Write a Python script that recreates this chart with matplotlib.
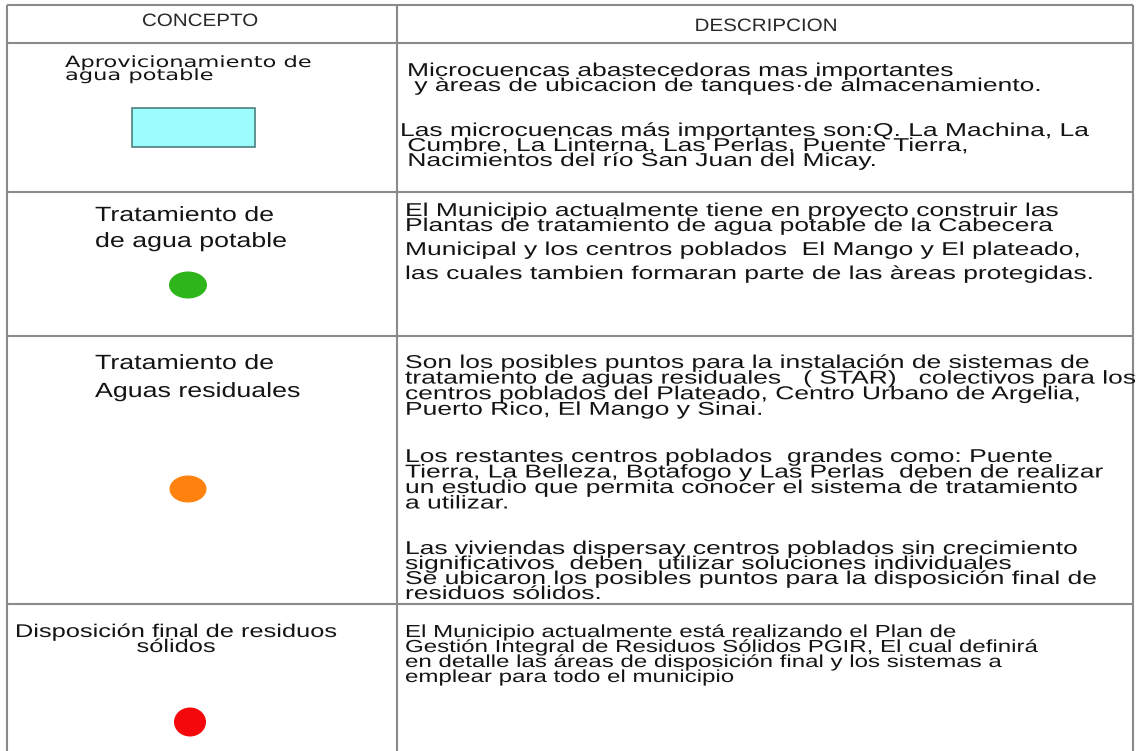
import matplotlib
matplotlib.use("Agg")
import matplotlib.pyplot as plt
from matplotlib.patches import Rectangle, Ellipse
from matplotlib.patheffects import AbstractPathEffect
from matplotlib.transforms import Affine2D
from matplotlib.font_manager import FontProperties

# table content
headers = ["CONCEPTO", "DESCRIPCION"]
concepts = [
    ["Aprovicionamiento de", "agua potable"],
    ["Tratamiento de", "de agua potable"],
    ["Tratamiento de", "Aguas residuales"],
    ["Disposición final de residuos", "sólidos"],
]
symbol_colors = ["#9dfcfc", "#2eb51c", "#ff820e", "#f5080b"]
descriptions = [
    [["Microcuencas abastecedoras mas importantes",
      " y àreas de ubicacion de tanques·de almacenamiento."],
     ["Las microcuencas más importantes son:Q. La Machina, La",
      " Cumbre, La Linterna, Las Perlas, Puente Tierra,",
      " Nacimientos del río San Juan del Micay."]],
    [["El Municipio actualmente tiene en proyecto construir las",
      "Plantas de tratamiento de agua potable de la Cabecera"],
     ["Municipal y los centros poblados  El Mango y El plateado,",
      "las cuales tambien formaran parte de las àreas protegidas."]],
    [["Son los posibles puntos para la instalación de sistemas de",
      "tratamiento de aguas residuales   ( STAR)   colectivos para los",
      "centros poblados del Plateado, Centro Urbano de Argelia,",
      "Puerto Rico, El Mango y Sinai."],
     ["Los restantes centros poblados  grandes como: Puente",
      "Tierra, La Belleza, Botafogo y Las Perlas  deben de realizar",
      "un estudio que permita conocer el sistema de tratamiento",
      "a utilizar."],
     ["Las viviendas dispersay centros poblados sin crecimiento",
      "significativos  deben  utilizar soluciones individuales",
      "Se ubicaron los posibles puntos para la disposición final de",
      "residuos sólidos."]],
    [["El Municipio actualmente está realizando el Plan de",
      "Gestión Integral de Residuos Sólidos PGIR, El cual definirá",
      "en detalle las áreas de disposición final y los sistemas a",
      "emplear para todo el municipio"]],
]

# layout (pixel space of the 1138x751 picture)
W, H = 1138, 751
SX_R = 1.42   # the source picture is stretched horizontally
SX_N = 1.15
ARIAL = ["Liberation Sans", "DejaVu Sans"]
NARROW = ["Liberation Sans Narrow", "DejaVu Sans Condensed", "Liberation Sans"]
VERDANA = ["DejaVu Sans"]

col_x = [7, 397, 1133]
row_y = [5, 43, 192, 336, 604, H]

# (family, stretch, x, first baseline, line pitch, width of first line)
concept_pos = [
    (VERDANA, 1.45, 65, 67, 13, 247),
    (ARIAL, 1.3, 95, 221, 26, 180),
    (ARIAL, 1.3, 95, 369, 28, 180),
    (NARROW, 1.38, "c176", 637, 15, 323),
]
# (x, first baseline, pitch)
desc_pos = [
    [(407, 76, 15), (400, 136, 15)],
    [(405, 216, 15), (405, 255, 24)],
    [(405, 368, 15.6), (405, 462, 15.5), (405, 554, 15)],
    [(405, 637, 15)],
]


class StretchX(AbstractPathEffect):
    def __init__(self, sx, center=False):
        super().__init__()
        self.sx = sx
        self.center = center

    def draw_path(self, renderer, gc, tpath, affine, rgbFace=None):
        cx = 0
        if self.center and len(tpath.vertices):
            ext = tpath.get_extents()
            cx = (ext.x0 + ext.x1) / 2
        t = Affine2D().translate(-cx, 0).scale(self.sx, 1).translate(cx, 0)
        renderer.draw_path(gc, tpath, t + affine, rgbFace)


fig = plt.figure(figsize=(W / 100, H / 100), dpi=100)
ax = fig.add_axes([0, 0, 1, 1])
ax.set_xlim(0, W)
ax.set_ylim(H, 0)
ax.axis("off")
renderer = fig.canvas.get_renderer()


def fit_size(text, family, target, sx):
    prop = FontProperties(family=family, size=10)
    w, _, _ = renderer.get_text_width_height_descent(text, prop, False)
    return 10 * target / (w * sx)


def put(x, y, text, family, size, sx, color="#141414"):
    centred = isinstance(x, str)
    if centred:
        x = float(x[1:])
    ax.text(x, y, text, fontsize=size, family=family,
            ha="center" if centred else "left", va="baseline", color=color,
            path_effects=[StretchX(sx, centred)])


def lines_at(x, base, pitch, lines, family, size, sx):
    for i, line in enumerate(lines):
        put(x, base + i * pitch, line, family, size, sx)


# grid
ax.vlines(col_x, row_y[0], H, color="#8a8a8a", lw=1.5)
ax.hlines(row_y[:-1], col_x[0], col_x[-1], color="#8a8a8a", lw=1.5)

# header
hs = fit_size(headers[0], NARROW, 116, SX_N)
put("c200", 26, headers[0], NARROW, hs, SX_N, color="#2a2a2a")
put("c766", 31, headers[1], NARROW, hs, SX_N, color="#2a2a2a")

# concept column
for lines, (fam, sx, x, base, pitch, tw) in zip(concepts, concept_pos):
    fs = fit_size(lines[0], fam, tw, sx)
    lines_at(x, base, pitch, lines, fam, fs, sx)

# description column
ds = fit_size(descriptions[0][1][0], ARIAL, 690, SX_R)
ns = fit_size(descriptions[3][0][1], NARROW, 635, 1.38)
for r, (paras, layout) in enumerate(zip(descriptions, desc_pos)):
    fam, fs, sx = (NARROW, ns, 1.38) if r == 3 else (ARIAL, ds, SX_R)
    for lines, (x, base, pitch) in zip(paras, layout):
        lines_at(x, base, pitch, lines, fam, fs, sx)

# symbols
ax.add_patch(Rectangle((132, 108), 123, 39, facecolor=symbol_colors[0],
                       edgecolor="#4d7f80", lw=1.2))
for color, (cx, cy, ew, eh) in zip(symbol_colors[1:],
                                   [(188, 285, 38, 27), (188, 489, 37, 27),
                                    (190, 722, 32, 29)]):
    ax.add_patch(Ellipse((cx, cy), ew, eh, facecolor=color, edgecolor="none"))

fig.savefig("out.png", dpi=100)
